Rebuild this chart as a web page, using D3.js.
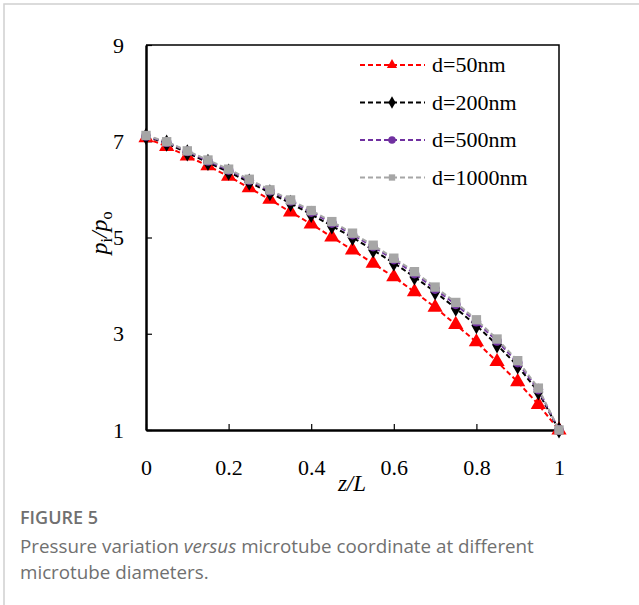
<!DOCTYPE html>
<html>
<head>
<meta charset="utf-8">
<script src="https://cdn.jsdelivr.net/npm/d3@7"></script>
<style>
  body { margin: 0; background: #fff; }
  svg text { font-family: "Liberation Serif", "Times New Roman", serif; }
  .cap { font-family: "Open Sans", "Noto Sans", sans-serif; fill: #707070; }
</style>
</head>
<body>
<svg id="chart" width="639" height="605"></svg>
<script>
const zL = [0, 0.05, 0.1, 0.15, 0.2, 0.25, 0.3, 0.35, 0.4, 0.45, 0.5,
            0.55, 0.6, 0.65, 0.7, 0.75, 0.8, 0.85, 0.9, 0.95, 1];
const d50 = [7.07, 6.89, 6.69, 6.49, 6.27, 6.03, 5.79, 5.53, 5.28, 5.01, 4.74,
             4.46, 4.18, 3.87, 3.55, 3.19, 2.83, 2.42, 2.0, 1.53, 1.0];
const d200 = [7.1, 6.96, 6.76, 6.56, 6.36, 6.15, 5.93, 5.71, 5.48, 5.24, 5.0,
              4.74, 4.47, 4.18, 3.87, 3.53, 3.17, 2.77, 2.33, 1.79, 1.0];
const d500 = [7.11, 6.98, 6.79, 6.59, 6.4, 6.19, 5.97, 5.76, 5.53, 5.3, 5.06,
              4.81, 4.54, 4.25, 3.93, 3.61, 3.25, 2.85, 2.4, 1.84, 1.0];
const d1000 = [7.12, 6.99, 6.8, 6.61, 6.42, 6.21, 5.99, 5.78, 5.56, 5.33, 5.09,
               4.84, 4.57, 4.29, 3.97, 3.65, 3.29, 2.89, 2.44, 1.87, 1.0];
const seriesNames = ['d=50nm', 'd=200nm', 'd=500nm', 'd=1000nm'];
const xTicks = [0, 0.2, 0.4, 0.6, 0.8, 1];
const yTicks = [1, 3, 5, 7, 9];

const series = [
  {name: seriesNames[0], values: d50, color: '#ff0000', symbol: d3.symbolTriangle, size: 100, lsize: 45},
  {name: seriesNames[1], values: d200, color: '#000000', symbol: d3.symbolDiamond, size: 85, lsize: 45},
  {name: seriesNames[2], values: d500, color: '#7030a0', symbol: d3.symbolCircle, size: 75, lsize: 45},
  {name: seriesNames[3], values: d1000, color: '#a6a6a6', symbol: d3.symbolSquare, size: 88, lsize: 40}
];

const svg = d3.select('#chart');

// outer light frame
svg.append('rect')
  .attr('x', 4).attr('y', 4)
  .attr('width', 700).attr('height', 700)
  .attr('fill', 'none')
  .attr('stroke', '#d0d0d0')
  .attr('stroke-width', 1.5);

const pLeft = 146, pRight = 559, pTop = 45, pBottom = 430;
const x = d3.scaleLinear().domain([0, 1]).range([pLeft, pRight]);
const y = d3.scaleLinear().domain([1, 9]).range([pBottom, pTop]);

// frame top + right
svg.append('path')
  .attr('d', `M${pLeft},${pTop}H${pRight}V${pBottom}`)
  .attr('fill', 'none')
  .attr('stroke', '#000')
  .attr('stroke-width', 1.5);

const xAxis = svg.append('g')
  .attr('transform', `translate(0,${pBottom})`)
  .call(d3.axisBottom(x).tickValues(xTicks).tickSizeInner(-6).tickSizeOuter(0)
    .tickFormat(d3.format('')));
xAxis.select('.domain').attr('stroke-width', 2.5);
xAxis.selectAll('.tick line').attr('stroke-width', 1.2);
xAxis.selectAll('.tick text').attr('font-size', 22).attr('y', 29)
  .attr('fill', '#000').attr('font-family', 'Liberation Serif');

const yAxis = svg.append('g')
  .attr('transform', `translate(${pLeft},0)`)
  .call(d3.axisLeft(y).tickValues(yTicks).tickSizeInner(-6).tickSizeOuter(0));
yAxis.select('.domain').attr('stroke-width', 2.5);
yAxis.selectAll('.tick line').attr('stroke-width', 1.2);
yAxis.selectAll('.tick text').attr('font-size', 22).attr('x', -22)
  .attr('fill', '#000').attr('font-family', 'Liberation Serif');

// axis titles
svg.append('text')
  .attr('x', 352).attr('y', 491)
  .attr('text-anchor', 'middle')
  .attr('font-size', 23)
  .attr('font-style', 'italic')
  .text('z/L');

const yt = svg.append('text')
  .attr('transform', 'translate(107,233) rotate(-90)')
  .attr('text-anchor', 'middle')
  .attr('font-size', 24);
yt.append('tspan').attr('font-style', 'italic').text('p');
yt.append('tspan').attr('font-size', 16).attr('dy', 5).text('i');
yt.append('tspan').attr('dy', -5).attr('font-style', 'italic').text('/p');
yt.append('tspan').attr('font-size', 16).attr('dy', 5).text('o');

// series
const line = d3.line().x((d, i) => x(zL[i])).y(d => y(d));
series.forEach(s => {
  svg.append('path')
    .datum(s.values)
    .attr('d', line)
    .attr('fill', 'none')
    .attr('stroke', s.color)
    .attr('stroke-width', 2)
    .attr('stroke-dasharray', '5,3');
  svg.append('g').selectAll('path')
    .data(s.values)
    .join('path')
    .attr('transform', (d, i) => `translate(${x(zL[i])},${y(d)})`)
    .attr('d', d3.symbol().type(s.symbol).size(s.size))
    .attr('fill', s.color);
});

// legend
const legend = svg.append('g');
series.forEach((s, i) => {
  const ly = 65 + i * 37.5;
  legend.append('line')
    .attr('x1', 360).attr('x2', 425)
    .attr('y1', ly).attr('y2', ly)
    .attr('stroke', s.color)
    .attr('stroke-width', 2)
    .attr('stroke-dasharray', '5,3');
  legend.append('path')
    .attr('transform', `translate(392,${ly})`)
    .attr('d', d3.symbol().type(s.symbol).size(s.lsize))
    .attr('fill', s.color);
  legend.append('text')
    .attr('x', 432).attr('y', ly + 7)
    .attr('font-size', 22)
    .text(s.name);
});

// caption
svg.append('text').attr('class', 'cap')
  .attr('x', 20).attr('y', 524)
  .attr('font-size', 18).attr('font-weight', 600)
  .attr('fill', '#555')
  .text('FIGURE 5');
const c1 = svg.append('text').attr('class', 'cap')
  .attr('x', 20).attr('y', 553).attr('font-size', 18.8);
c1.append('tspan').text('Pressure variation ');
c1.append('tspan').attr('font-style', 'italic').text('versus');
c1.append('tspan').text(' microtube coordinate at different');
svg.append('text').attr('class', 'cap')
  .attr('x', 20).attr('y', 579).attr('font-size', 18.8)
  .text('microtube diameters.');
</script>
</body>
</html>
